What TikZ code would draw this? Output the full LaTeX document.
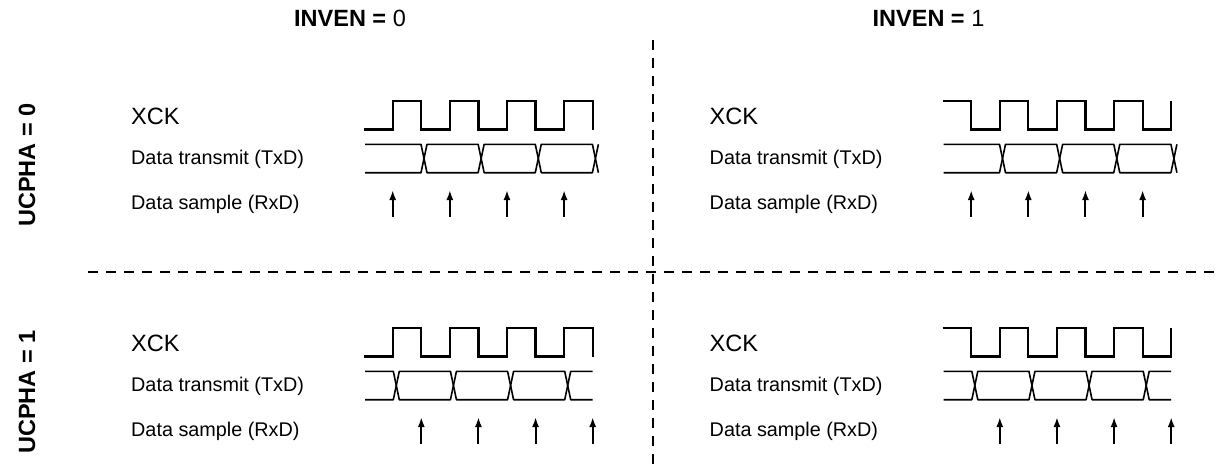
\documentclass[tikz,border=0pt]{standalone}
\usepackage{fontspec}
\setmainfont{Liberation Sans}
\usetikzlibrary{arrows.meta}

\begin{document}
\begin{tikzpicture}[x=1pt,y=-1pt,
  clk/.style={line width=2.2pt},
  bus/.style={line width=1.6pt,line join=round},
  smp/.style={line width=2pt,-{Latex[length=10pt,width=7pt]}},
  sep/.style={line width=2.3pt,dash pattern=on 10pt off 8pt},
  lbl/.style={anchor=base west,inner sep=0pt,font=\fontsize{19.8}{22}\selectfont},
  sig/.style={anchor=base west,inner sep=0pt,font=\fontsize{23.6}{26}\selectfont},
  hdr/.style={anchor=base,inner sep=0pt,font=\fontsize{23.5}{26}\selectfont}]
\useasboundingbox (0,0) rectangle (1221,471);
% separators
\draw[sep] (88,272) -- (1221,272);
\draw[sep] (653,40) -- (653,471);
% headings
\foreach \cx/\inv in {0/0,578.5/1}
  \node[hdr] (inven\inv) at (350+\cx,26.7) {\bfseries INVEN = \mdseries\inv};
\foreach \cy/\cph in {0/0,227/1}
  \node[hdr,rotate=90] (ucpha\cph) at (35,165+\cy) {\bfseries UCPHA = \cph};
% panels
\foreach \cx/\inv in {0/0,578.5/1}
 \foreach \cy/\cph in {0/0,227/1}{
  \begin{scope}[shift={(\cx,\cy)}]
   \ifnum\inv=0 \def\ya{129.5}\def\yb{100.7}\else\def\ya{100.7}\def\yb{129.5}\fi
   \ifnum\cph=0 \def\xc{424}\def\xs{392.7}\def\xe{598.4}\else\def\xc{396.3}\def\xs{421.3}\def\xe{592.7}\fi
   % text
   \node[sig] (xck\inv\cph) at (131,124.3) {XCK};
   \node[lbl] (txd\inv\cph) at (131,164) {Data transmit (TxD)};
   \node[lbl] (rxd\inv\cph) at (131,209.3) {Data sample (RxD)};
   % clock
   \draw[clk] (364,\ya) \foreach \k in {0,...,3}{ -| ({392.7+57.14*\k},\yb) -| ({421.3+57.14*\k},\ya) };
   % data
   \draw[bus] (365,144.3) -- (\xc-3,144.3) -- (\xc,158.5) -- (\xc-3,172.7) -- (365,172.7);
   \foreach \k in {0,1,2}
     \draw[bus] ({\xc+57.14*\k},158.5) -- ++(3,-14.2) -- ({\xc+57.14*(\k+1)-3},144.3)
       -- ++(3,14.2) -- ++(-3,14.2) -- ({\xc+57.14*\k+3},172.7) -- cycle;
   \draw[bus] (\xe,144.3) -- (\xc+174.4,144.3) -- (\xc+171.4,158.5) -- (\xc+174.4,172.7) -- (\xe,172.7);
   % sampling
   \foreach \k in {0,...,3}
     \draw[smp] ({\xs+57.14*\k},216.7) -- ++(0,-26.7);
  \end{scope}
 }
\end{tikzpicture}
\end{document}
